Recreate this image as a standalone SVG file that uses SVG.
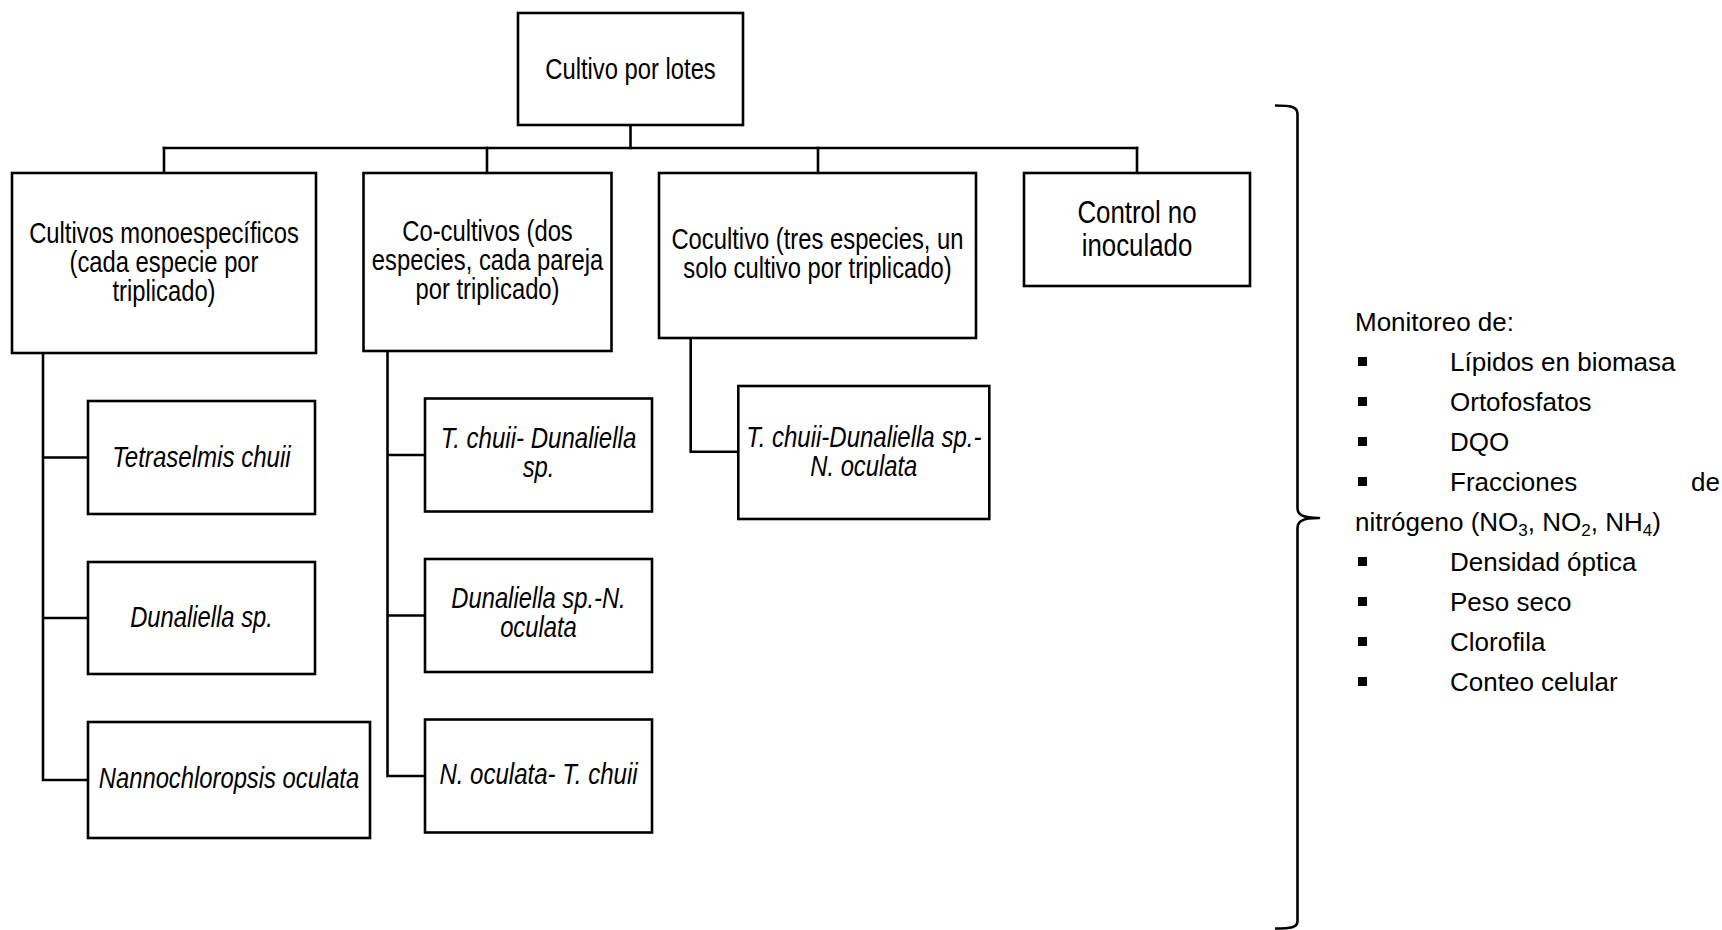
<svg xmlns="http://www.w3.org/2000/svg" width="1722" height="930" viewBox="0 0 1722 930">
  <style>
    .box { fill: #ffffff; stroke: #000000; stroke-width: 2.6; }
    .link { fill: none; stroke: #000000; stroke-width: 2.6; stroke-linecap: square; }
    .brace { fill: none; stroke: #000000; stroke-width: 2.6; stroke-linejoin: round; }
    .lbl { font-family: "Liberation Sans Narrow", "Liberation Sans", Arial, sans-serif; font-size: 29px; fill: #000000; text-anchor: middle; }
    .big { font-size: 31.5px; }
    .it { font-style: italic; }
    .list { font-family: "Liberation Sans", Arial, sans-serif; font-size: 26px; fill: #000000; }
    .sub { font-size: 17px; }
    .bullet { fill: #000000; }
  </style>

  <rect x="0" y="0" width="1722" height="930" fill="#ffffff"/>

  <!-- connectors -->
  <g id="connectors">
    <path class="link" d="M630.5,125 V148"/>
    <path class="link" d="M164,148 H1137"/>
    <path class="link" d="M164,148 V173 M487,148 V173 M818,148 V173 M1137,148 V173"/>
    <!-- monospecific branch -->
    <path class="link" d="M43,353 V780 H88 M43,457.5 H88 M43,618 H88"/>
    <!-- two-species branch -->
    <path class="link" d="M387.5,351 V776 H425 M387.5,455 H425 M387.5,615.5 H425"/>
    <!-- three-species branch -->
    <path class="link" d="M690.7,338 V451.7 H738"/>
  </g>

  <!-- root -->
  <g id="node-root">
    <rect class="box" x="518" y="13" width="225" height="112"/>
    <text class="lbl" x="630.5" y="79" textLength="170.5" lengthAdjust="spacingAndGlyphs">Cultivo por lotes</text>
  </g>

  <!-- first level -->
  <g id="node-mono">
    <rect class="box" x="12" y="173" width="304" height="180"/>
    <text class="lbl" x="164" y="243" textLength="269.6" lengthAdjust="spacingAndGlyphs">Cultivos monoespecíficos</text>
    <text class="lbl" x="164" y="272" textLength="189" lengthAdjust="spacingAndGlyphs">(cada especie por</text>
    <text class="lbl" x="164" y="301" textLength="103.1" lengthAdjust="spacingAndGlyphs">triplicado)</text>
  </g>

  <g id="node-co2">
    <rect class="box" x="363.5" y="173" width="248" height="178"/>
    <text class="lbl" x="487.5" y="241" textLength="170.5" lengthAdjust="spacingAndGlyphs">Co-cultivos (dos</text>
    <text class="lbl" x="487.5" y="270" textLength="231.3" lengthAdjust="spacingAndGlyphs">especies, cada pareja</text>
    <text class="lbl" x="487.5" y="299" textLength="144" lengthAdjust="spacingAndGlyphs">por triplicado)</text>
  </g>

  <g id="node-co3">
    <rect class="box" x="659" y="173" width="317" height="165"/>
    <text class="lbl" x="817.5" y="249" textLength="292.1" lengthAdjust="spacingAndGlyphs">Cocultivo (tres especies, un</text>
    <text class="lbl" x="817.5" y="278" textLength="268.3" lengthAdjust="spacingAndGlyphs">solo cultivo por triplicado)</text>
  </g>

  <g id="node-control">
    <rect class="box" x="1024" y="173" width="226" height="113"/>
    <text class="lbl big" x="1137" y="223" textLength="119.2" lengthAdjust="spacingAndGlyphs">Control no</text>
    <text class="lbl big" x="1137" y="256" textLength="110.5" lengthAdjust="spacingAndGlyphs">inoculado</text>
  </g>

  <!-- monospecific cultures -->
  <g id="node-tetraselmis">
    <rect class="box" x="88" y="401" width="227" height="113"/>
    <text class="lbl it" x="201.5" y="467" textLength="178.4" lengthAdjust="spacingAndGlyphs">Tetraselmis chuii</text>
  </g>

  <g id="node-dunaliella">
    <rect class="box" x="88" y="562" width="227" height="112"/>
    <text class="lbl it" x="201.5" y="627" textLength="142.7" lengthAdjust="spacingAndGlyphs">Dunaliella sp.</text>
  </g>

  <g id="node-nannochloropsis">
    <rect class="box" x="88" y="722" width="282" height="116"/>
    <text class="lbl it" x="229" y="788" textLength="260.4" lengthAdjust="spacingAndGlyphs">Nannochloropsis oculata</text>
  </g>

  <!-- two-species co-cultures -->
  <g id="node-tc-dun">
    <rect class="box" x="425" y="398.5" width="227" height="113"/>
    <text class="lbl it" x="538.5" y="448" textLength="195.6" lengthAdjust="spacingAndGlyphs">T. chuii- Dunaliella</text>
    <text class="lbl it" x="538.5" y="477" textLength="31.7" lengthAdjust="spacingAndGlyphs">sp.</text>
  </g>

  <g id="node-dun-no">
    <rect class="box" x="425" y="559" width="227" height="113"/>
    <text class="lbl it" x="538.5" y="608" textLength="174.4" lengthAdjust="spacingAndGlyphs">Dunaliella sp.-N.</text>
    <text class="lbl it" x="538.5" y="637" textLength="76.7" lengthAdjust="spacingAndGlyphs">oculata</text>
  </g>

  <g id="node-no-tc">
    <rect class="box" x="425" y="719.5" width="227" height="113"/>
    <text class="lbl it" x="538.5" y="784" textLength="198.2" lengthAdjust="spacingAndGlyphs">N. oculata- T. chuii</text>
  </g>

  <!-- three-species co-culture -->
  <g id="node-tc-dun-no">
    <rect class="box" x="738.3" y="386" width="251" height="133"/>
    <text class="lbl it" x="863.8" y="447" textLength="235.2" lengthAdjust="spacingAndGlyphs">T. chuii-Dunaliella sp.-</text>
    <text class="lbl it" x="863.8" y="476" textLength="107.1" lengthAdjust="spacingAndGlyphs">N. oculata</text>
  </g>

  <!-- brace grouping all cultures -->
  <g id="brace">
    <path class="brace" d="M1275,105.5 C1291,105.5 1297.5,106.5 1297.5,114 V508 C1297.5,514.5 1302,518 1319,518 C1302,518 1297.5,521.5 1297.5,528 V921 C1297.5,927.5 1291,928.5 1275,928.5"/>
  </g>

  <!-- monitored parameters -->
  <g id="monitoring">
    <text class="list" x="1355" y="331">Monitoreo de:</text>
    <rect class="bullet" x="1358" y="357" width="9" height="9"/>
    <text class="list" x="1450" y="371">Lípidos en biomasa</text>
    <rect class="bullet" x="1358" y="397" width="9" height="9"/>
    <text class="list" x="1450" y="411">Ortofosfatos</text>
    <rect class="bullet" x="1358" y="437" width="9" height="9"/>
    <text class="list" x="1450" y="451">DQO</text>
    <rect class="bullet" x="1358" y="477" width="9" height="9"/>
    <text class="list" x="1450" y="491">Fracciones</text>
    <text class="list" x="1720" y="491" text-anchor="end">de</text>
    <text class="list" x="1355" y="531">nitrógeno (NO<tspan class="sub" dy="5">3</tspan><tspan dy="-5">, NO</tspan><tspan class="sub" dy="5">2</tspan><tspan dy="-5">, NH</tspan><tspan class="sub" dy="5">4</tspan><tspan dy="-5">)</tspan></text>
    <rect class="bullet" x="1358" y="557" width="9" height="9"/>
    <text class="list" x="1450" y="571">Densidad óptica</text>
    <rect class="bullet" x="1358" y="597" width="9" height="9"/>
    <text class="list" x="1450" y="611">Peso seco</text>
    <rect class="bullet" x="1358" y="637" width="9" height="9"/>
    <text class="list" x="1450" y="651">Clorofila</text>
    <rect class="bullet" x="1358" y="677" width="9" height="9"/>
    <text class="list" x="1450" y="691">Conteo celular</text>
  </g>
</svg>
